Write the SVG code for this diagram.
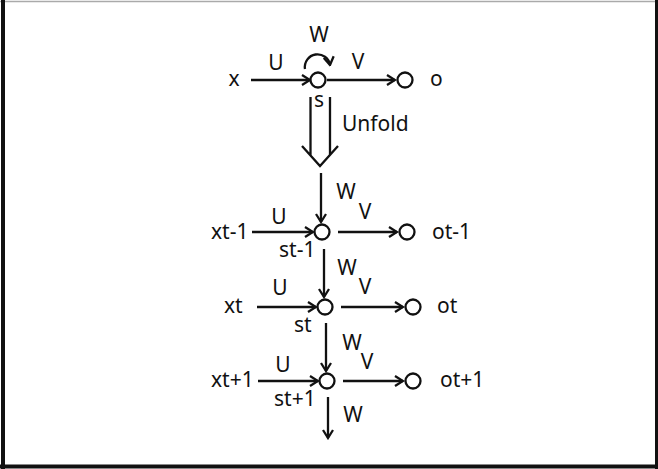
<svg xmlns="http://www.w3.org/2000/svg" width="658" height="469" viewBox="0 0 658 469">
<style>
text{font-family:"Noto Sans","Open Sans","DejaVu Sans",sans-serif;font-size:21px;fill:#111}
.m{text-anchor:middle}
.c{fill:#fff;stroke:#111;stroke-width:2.3}
.l{stroke:#111;stroke-width:2.3;fill:none}
</style>
<defs>
<marker id="ah" viewBox="0 0 12 12" markerWidth="12" markerHeight="12" refX="10.5" refY="6" orient="auto" markerUnits="userSpaceOnUse">
<path d="M2.5,1 L10.5,6 L2.5,11" fill="none" stroke="#111" stroke-width="2.3"/>
</marker>
</defs>
<rect x="0" y="0" width="658" height="469" fill="#fff"/>
<g id="frame">
<line x1="0" y1="1.5" x2="658" y2="1.5" stroke="#aaa" stroke-width="1.5"/>
<line x1="3" y1="0" x2="3" y2="469" stroke="#111" stroke-width="4"/>
<line x1="0" y1="466.5" x2="658" y2="466.5" stroke="#111" stroke-width="4"/>
<line x1="656.5" y1="0" x2="656.5" y2="469" stroke="#111" stroke-width="3"/>
</g>
<g id="connectors">
<line class="l" x1="251" y1="80" x2="310" y2="80" marker-end="url(#ah)"/>
<line class="l" x1="327" y1="80" x2="395" y2="80" marker-end="url(#ah)"/>
<path class="l" d="M305,69 A12.5,12.5 0 1 1 330,65" marker-end="url(#ah)"/>
<path class="l" d="M310.5,97 L310.5,155 M330,97 L330,155 M302,146 L320,166 L338,146"/>
<line class="l" x1="321" y1="173" x2="321" y2="222" marker-end="url(#ah)"/>
<line class="l" x1="252" y1="232" x2="313" y2="232" marker-end="url(#ah)"/>
<line class="l" x1="338" y1="232" x2="397" y2="232" marker-end="url(#ah)"/>
<line class="l" x1="324" y1="249" x2="324" y2="297" marker-end="url(#ah)"/>
<line class="l" x1="257" y1="307" x2="316" y2="307" marker-end="url(#ah)"/>
<line class="l" x1="341" y1="307" x2="403" y2="307" marker-end="url(#ah)"/>
<line class="l" x1="326" y1="323" x2="326" y2="371" marker-end="url(#ah)"/>
<line class="l" x1="258" y1="381" x2="318" y2="381" marker-end="url(#ah)"/>
<line class="l" x1="343" y1="381" x2="403" y2="381" marker-end="url(#ah)"/>
<line class="l" x1="328" y1="397" x2="328" y2="438" marker-end="url(#ah)"/>
</g>
<g id="n_x"><text class="m" x="234" y="86">x</text></g>
<g id="n_s"><circle class="c" cx="318" cy="80" r="7.5"/><text class="m" x="319" y="107">s</text></g>
<g id="n_o"><circle class="c" cx="405" cy="80" r="7.5"/><text x="430" y="86">o</text></g>
<g id="labels_top">
<text class="m" x="276" y="70">U</text>
<text class="m" x="358" y="69">V</text>
<text class="m" x="319" y="42">W</text>
<text x="342" y="131">Unfold</text>
<text class="m" x="346" y="199">W</text>
</g>
<g id="n_xt-1"><text x="211" y="239">xt-1</text></g>
<g id="n_st-1"><circle class="c" cx="322" cy="232" r="7.5"/><text x="279" y="257">st-1</text></g>
<g id="n_ot-1"><circle class="c" cx="407" cy="232" r="7.5"/><text x="432" y="239">ot-1</text></g>
<g id="labels_t-1">
<text class="m" x="279" y="224">U</text>
<text class="m" x="365" y="219">V</text>
<text class="m" x="347" y="275">W</text>
</g>
<g id="n_xt"><text x="224" y="313">xt</text></g>
<g id="n_st"><circle class="c" cx="325" cy="307" r="7.5"/><text x="294" y="332">st</text></g>
<g id="n_ot"><circle class="c" cx="413" cy="307" r="7.5"/><text x="437" y="313">ot</text></g>
<g id="labels_t">
<text class="m" x="280" y="295">U</text>
<text class="m" x="365" y="294">V</text>
<text class="m" x="352" y="350">W</text>
</g>
<g id="n_xt+1"><text x="211" y="387">xt+1</text></g>
<g id="n_st+1"><circle class="c" cx="327" cy="381" r="7.5"/><text x="274" y="406">st+1</text></g>
<g id="n_ot+1"><circle class="c" cx="413" cy="381" r="7.5"/><text x="440" y="387">ot+1</text></g>
<g id="labels_t+1">
<text class="m" x="283" y="372">U</text>
<text class="m" x="367" y="369">V</text>
<text class="m" x="353" y="422">W</text>
</g>
</svg>
